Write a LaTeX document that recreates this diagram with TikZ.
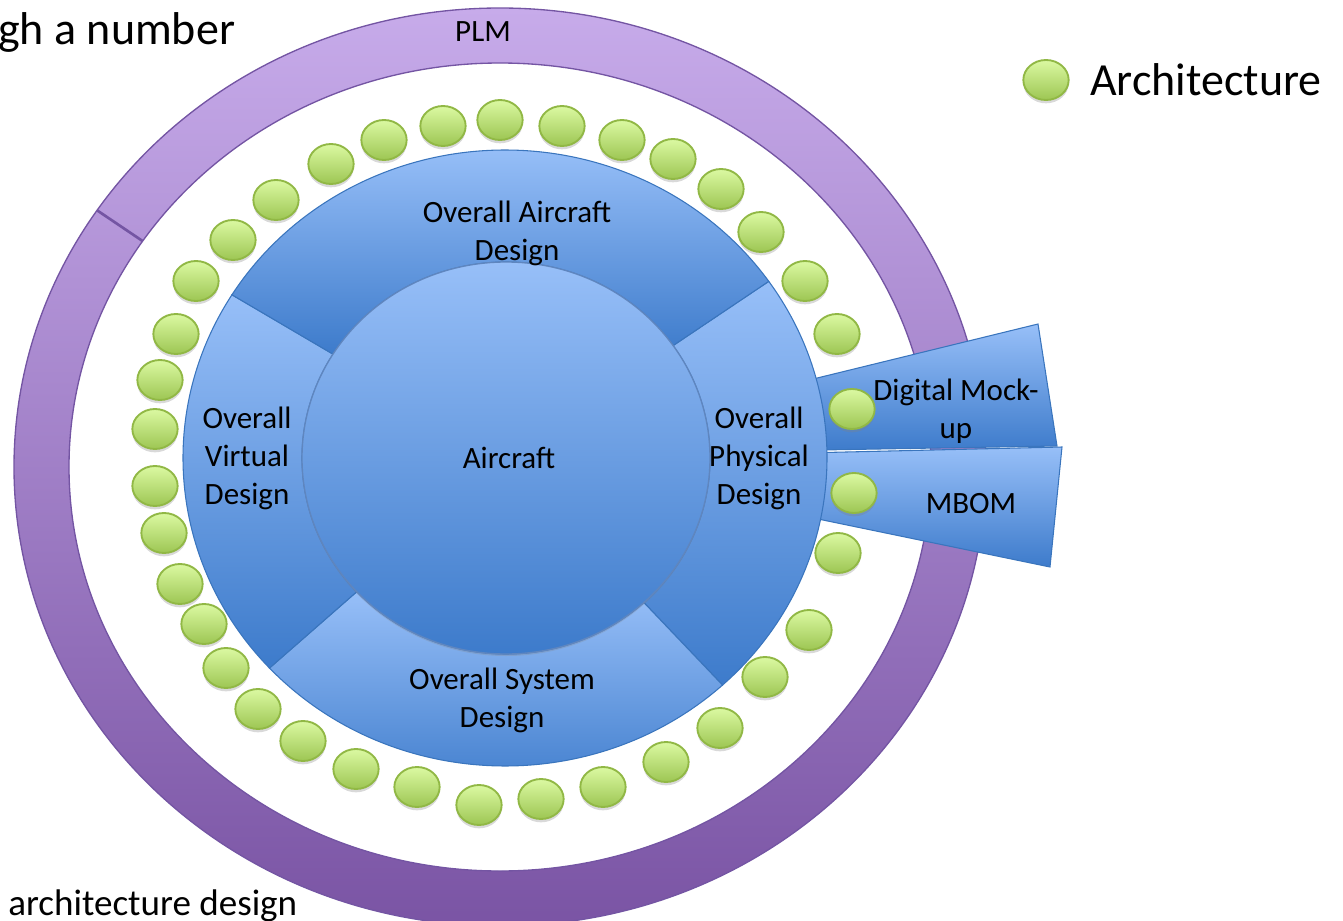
\documentclass[tikz,border=0pt]{standalone}
\usepackage{fontspec}
\setmainfont{Carlito}
\usetikzlibrary{shapes.geometric,shadows}
\definecolor{plmtop}{HTML}{C7ABEA}
\definecolor{plmbot}{HTML}{7A54A4}
\definecolor{plmline}{HTML}{7455A3}
\definecolor{bluetop}{HTML}{97BFF8}
\definecolor{bluebot}{HTML}{3D7BCB}
\definecolor{blueline}{HTML}{3A75BD}
\definecolor{innerline}{HTML}{5F86BF}
\definecolor{dottop}{HTML}{DBF9A2}
\definecolor{dotbot}{HTML}{9DC653}
\definecolor{dotline}{HTML}{91B845}
% one block of the blue ring, from angle #1 to angle #2
\newcommand{\ringpart}[2]{%
  \draw[seg] ([shift={(#1:322 and 308)}]505,458) arc[start angle=#1, end angle=#2, x radius=322, y radius=308]
    -- ([shift={(#2:204 and 196)}]506,458) arc[start angle=#2, end angle=#1, x radius=204, y radius=196] -- cycle;}
\begin{document}
\begin{tikzpicture}[x=0.75pt,y=-0.75pt,
    seg/.style={draw=blueline, line width=0.8pt, top color=bluetop, bottom color=bluebot},
    dot/.style={ellipse, minimum width=34pt, minimum height=30pt, inner sep=0pt, draw=dotline, line width=1.4pt,
      top color=dottop, bottom color=dotbot, drop shadow={shadow xshift=0pt, shadow yshift=-2.5pt, opacity=0.3}},
    lbl/.style={align=center, inner sep=0pt, font=\fontsize{23.25}{28.5}\selectfont}]
  \useasboundingbox (0,0) rectangle (1343,921);
  % Outer PLM ring
  \shade[top color=plmtop, bottom color=plmbot, even odd rule] (500,467) ellipse [x radius=486, y radius=459]
    (500,467) ellipse [x radius=431, y radius=404];
  \draw[plmline, line width=1pt] (500,467) ellipse [x radius=486, y radius=459];
  \draw[plmline, line width=1pt] (500,467) ellipse [x radius=431, y radius=404];
  \draw[plmline, line width=2pt] ([shift={(214:486 and 459)}]500,467) -- ([shift={(214:431 and 404)}]500,467);
  % Tabs sticking out on the right
  \draw[seg] (760,392) -- (1038,324) -- (1057,446) -- (760,451) -- cycle;
  \draw[seg] (760,454) -- (1062,447) -- (1050,567) -- (760,507) -- cycle;
  % Blue ring in four parts
  \ringpart{-35}{47.5}
  \ringpart{47.5}{137}
  \ringpart{137}{212}
  \ringpart{212}{325}
  % Inner circle
  \draw[draw=innerline, line width=1pt, top color=bluetop, bottom color=bluebot,
    drop shadow={shadow xshift=0pt, shadow yshift=-1.5pt, opacity=0.25}] (506,458) ellipse [x radius=204, y radius=196];
  % Architecture dots
  \foreach \x/\y [count=\i] in {500/120, 562/126, 622/140, 673/159, 721/189, 761/232, 805/281, 837/334,
      852/409, 854/493, 838/553, 809/630, 765/677, 720/728, 666/762, 603/787, 541/799, 479/805,
      417/787, 356/769, 303/741, 258/709, 226/668, 204/624, 180/584, 164/533, 155/486, 155/429,
      160/380, 176/334, 196/281, 233/240, 276/200, 331/164, 384/140, 443/126}
    \node[dot] (d\i) at (\x,\y) {};
  % Labels
  \node[lbl] (design) at (517,233) {Overall Aircraft\\Design};
  \node[lbl] (virtual) at (247,458) {Overall\\Virtual\\Design};
  \node[lbl] (aircraft) at (509,458) {Aircraft};
  \node[lbl] (physical) at (759,458) {Overall\\Physical\\Design};
  \node[lbl] (system) at (502,700) {Overall System\\Design};
  \node[lbl] (plm) at (483,32) {PLM};
  \node[lbl] (mockup) at (956,411) {Digital Mock-\\up};
  \node[lbl] (mbom) at (971,504) {MBOM};
  % Legend
  \node[dot] (key) at (1046,80) {};
  \node[anchor=west, inner sep=0pt, font=\fontsize{34.5}{40}\selectfont] (keytext) at (1090,80) {Architecture};
  % Cut off text at the edges
  \node[anchor=west, inner sep=0pt, font=\fontsize{34.5}{40}\selectfont] (toptext) at (-2,32) {gh a number};
  \node[anchor=base west, inner sep=0pt, font=\fontsize{27.8}{32}\selectfont] (bottomtext) at (8,915) {architecture design};
\end{tikzpicture}
\end{document}
